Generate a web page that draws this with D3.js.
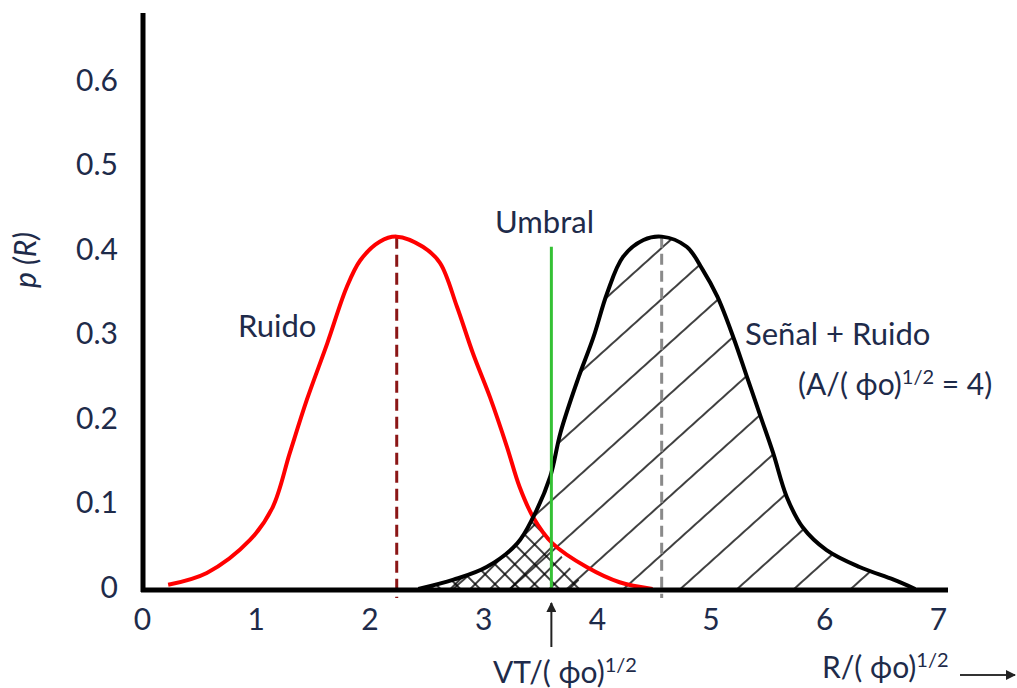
<!DOCTYPE html>
<html>
<head>
<meta charset="utf-8">
<script src="https://cdn.jsdelivr.net/npm/d3@7"></script>
<style>
  body { margin: 0; background: #fff; }
  text { font-family: Lato, "Open Sans", sans-serif; fill: #1e2b4a; }
</style>
</head>
<body>
<div id="chart"></div>
<script>
// curve values (R in units of (phi o)^1/2, p(R))
var noiseR = [0.23, 0.57, 0.95, 1.15, 1.30, 1.45, 1.63, 1.80, 1.92, 2.09, 2.24, 2.47, 2.62, 2.77, 2.91, 3.06, 3.21, 3.32, 3.44, 3.61, 3.91, 4.20, 4.49];
var noiseP = [0.005, 0.019, 0.058, 0.097, 0.161, 0.224, 0.291, 0.357, 0.389, 0.411, 0.417, 0.405, 0.386, 0.334, 0.279, 0.227, 0.168, 0.121, 0.085, 0.054, 0.026, 0.008, 0.0];

var signalR = [2.43, 2.74, 3.03, 3.30, 3.44, 3.59, 3.68, 3.83, 3.97, 4.09, 4.23, 4.41, 4.57, 4.79, 4.93, 5.06, 5.20, 5.32, 5.44, 5.55, 5.67, 5.81, 6.02, 6.31, 6.61, 6.80];
var signalP = [0.0, 0.011, 0.026, 0.054, 0.085, 0.133, 0.185, 0.247, 0.298, 0.350, 0.393, 0.413, 0.417, 0.405, 0.378, 0.346, 0.298, 0.251, 0.204, 0.161, 0.109, 0.073, 0.046, 0.026, 0.011, 0.0];

var xTicks = [0, 1, 2, 3, 4, 5, 6, 7];
var yTicks = [0, 0.1, 0.2, 0.3, 0.4, 0.5, 0.6];

var threshold = 3.6;     // Umbral
var noiseMean = 2.24;
var signalMean = 4.57;
var peakP = 0.417;
var crossR = 3.44;       // where the two curves meet
var crossEnd = 3.9;      // end of the cross-hatched patch on the baseline

var svgWidth = 1017;
var svgHeight = 688;

var svg = d3.select("#chart").append("svg")
    .attr("width", svgWidth)
    .attr("height", svgHeight);

var x = d3.scaleLinear().domain([0, 7]).range([142, 938]);
var y = d3.scaleLinear().domain([0, 0.7]).range([589, 589 - 0.7 * 845]);

// hatch patterns
var defs = svg.append("defs");
function hatch(id, gap, angle) {
    var p = defs.append("pattern")
        .attr("id", id)
        .attr("patternUnits", "userSpaceOnUse")
        .attr("width", gap)
        .attr("height", gap)
        .attr("patternTransform", "rotate(" + angle + ")");
    p.append("line")
        .attr("x1", -1).attr("x2", gap + 1)
        .attr("y1", gap / 2).attr("y2", gap / 2)
        .attr("stroke", "#000")
        .attr("stroke-width", 1.5);
}
hatch("wide", 38, -42);
hatch("fine1", 14, -45);
hatch("fine2", 14, 45);

var signal = signalR.map((r, i) => [r, signalP[i]]);
var noise = noiseR.map((r, i) => [r, noiseP[i]]);

var area = d3.area()
    .x(d => x(d[0]))
    .y0(y(0))
    .y1(d => y(d[1]))
    .curve(d3.curveCatmullRom);

svg.append("path")
    .attr("d", area(signal))
    .attr("fill", "url(#wide)");

// cross-hatched overlap patch
var patch = signal.filter(d => d[0] <= crossR);
var patchPath = d3.line()
    .x(d => x(d[0]))
    .y(d => y(d[1]))
    .curve(d3.curveLinear)(patch.concat([[crossEnd, 0], [signalR[0], 0]]));
svg.append("path").attr("d", patchPath).attr("fill", "url(#fine1)");
svg.append("path").attr("d", patchPath).attr("fill", "url(#fine2)");

// dashed mean lines
svg.append("line")
    .attr("x1", x(noiseMean)).attr("x2", x(noiseMean))
    .attr("y1", y(peakP)).attr("y2", y(0) + 9)
    .attr("stroke", "#8b1616")
    .attr("stroke-width", 3)
    .attr("stroke-dasharray", "12,6");

svg.append("line")
    .attr("x1", x(signalMean)).attr("x2", x(signalMean))
    .attr("y1", y(peakP)).attr("y2", y(0) + 9)
    .attr("stroke", "#8a8a8a")
    .attr("stroke-width", 3)
    .attr("stroke-dasharray", "11,6");

var line = d3.line()
    .x(d => x(d[0]))
    .y(d => y(d[1]))
    .curve(d3.curveCatmullRom);

svg.append("path")
    .attr("d", line(noise))
    .attr("fill", "none")
    .attr("stroke", "#ff0000")
    .attr("stroke-width", 4);

svg.append("path")
    .attr("d", line(signal))
    .attr("fill", "none")
    .attr("stroke", "#000")
    .attr("stroke-width", 4);

// threshold
svg.append("line")
    .attr("x1", x(threshold)).attr("x2", x(threshold))
    .attr("y1", y(0.405)).attr("y2", y(0))
    .attr("stroke", "#35c135")
    .attr("stroke-width", 3);

// axes
var xAxis = svg.append("g")
    .attr("transform", `translate(0, ${y(0)})`)
    .call(d3.axisBottom(x).tickValues(xTicks).tickSize(0).tickPadding(20).tickFormat(d3.format("d")));
var yAxis = svg.append("g")
    .attr("transform", `translate(${x(0)}, 0)`)
    .call(d3.axisLeft(y).tickValues(yTicks).tickSize(0).tickPadding(24).tickFormat(d => d === 0 ? "0" : d3.format(".1f")(d)));
[xAxis, yAxis].forEach(function(g) {
    g.select(".domain").remove();
    g.selectAll("text")
        .attr("fill", "#1e2b4a")
        .style("font-family", "Lato, sans-serif")
        .style("font-size", "30px");
});
yAxis.selectAll("text").attr("dy", "0.28em");

svg.append("line")
    .attr("x1", 143).attr("x2", 143)
    .attr("y1", 13).attr("y2", y(0) + 3)
    .attr("stroke", "#000").attr("stroke-width", 5);
svg.append("line")
    .attr("x1", 141).attr("x2", 948)
    .attr("y1", y(0) + 1).attr("y2", y(0) + 1)
    .attr("stroke", "#000").attr("stroke-width", 5);

// arrows
defs.append("marker")
    .attr("id", "head")
    .attr("viewBox", "0 0 10 10")
    .attr("refX", 9).attr("refY", 5)
    .attr("markerWidth", 5).attr("markerHeight", 5)
    .attr("orient", "auto")
    .append("path")
    .attr("d", "M0,0L10,5L0,10z")
    .attr("fill", "#222");

svg.append("line")
    .attr("x1", x(threshold)).attr("x2", x(threshold))
    .attr("y1", 647).attr("y2", 603)
    .attr("stroke", "#222").attr("stroke-width", 2)
    .attr("marker-end", "url(#head)");

svg.append("line")
    .attr("x1", 960).attr("x2", 1015)
    .attr("y1", 675).attr("y2", 675)
    .attr("stroke", "#333").attr("stroke-width", 2)
    .attr("marker-end", "url(#head)");

// labels
svg.append("text")
    .attr("transform", "translate(36, 260) rotate(-90)")
    .attr("text-anchor", "middle")
    .style("font-size", "30px")
    .style("font-style", "italic")
    .text("p (R)");

function label(px, py, txt) {
    return svg.append("text")
        .attr("x", px).attr("y", py)
        .style("font-size", "31px")
        .text(txt);
}
label(495, 233, "Umbral");
label(238, 337, "Ruido");
label(745, 345, "Señal + Ruido");

function supLabel(px, py, before, after) {
    var t = svg.append("text")
        .attr("x", px).attr("y", py)
        .style("font-size", "30px");
    t.append("tspan").text(before);
    t.append("tspan").attr("dy", -11).style("font-size", "20px").text("1/2");
    if (after) t.append("tspan").attr("dy", 11).text(after);
    return t;
}
supLabel(798, 395, "(A/( ϕo)", " = 4)");
supLabel(493, 683, "VT/( ϕo)");
supLabel(822, 678, "R/( ϕo)");
</script>
</body>
</html>
